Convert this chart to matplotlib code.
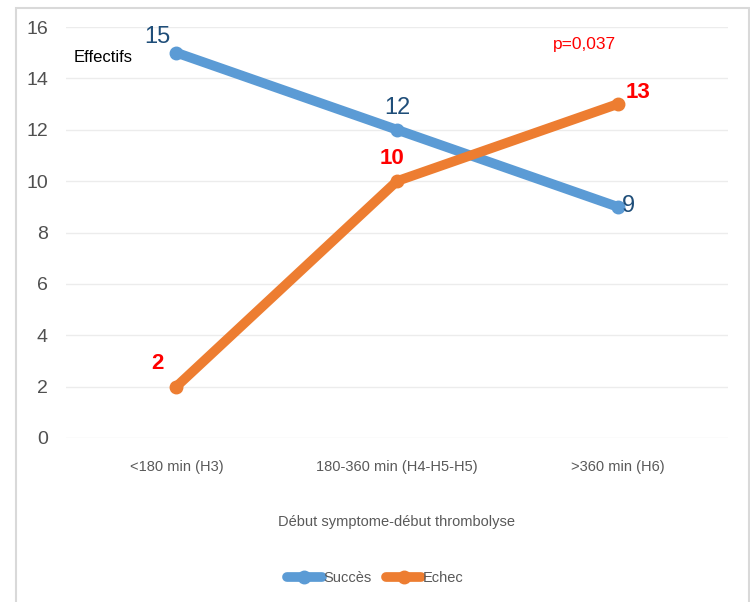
import matplotlib
matplotlib.use("Agg")
import matplotlib.pyplot as plt
from matplotlib.patches import Rectangle

categories = ["<180 min (H3)", "180-360 min (H4-H5-H5)", ">360 min (H6)"]
succes = [15, 12, 9]
echec = [2, 10, 13]
yticks = [0, 2, 4, 6, 8, 10, 12, 14, 16]

plt.rcParams['font.family'] = ['Liberation Sans', 'DejaVu Sans']

fig = plt.figure(figsize=(7.5, 6.02), dpi=100)
fig.patches.append(Rectangle((16/750, -0.1), (749-16)/750, 1.1 - 8/602, transform=fig.transFigure,
                             fill=False, edgecolor='#d9d9d9', linewidth=1.5))
ax = fig.add_axes([66/750, 1-438/602, (728-66)/750, (438-27)/602])

x = list(range(len(categories)))
blue = '#5B9BD5'
orange = '#ED7D31'
ax.plot(x, succes, color=blue, lw=7, marker='o', ms=9, solid_capstyle='round', label='Succès', zorder=3)
ax.plot(x, echec, color=orange, lw=7, marker='o', ms=9, solid_capstyle='round', label='Echec', zorder=3)

ax.set_xlim(-0.5, 2.5)
ax.set_ylim(0, 16)
ax.set_yticks(yticks)
ax.set_xticks(x)
ax.set_xticklabels(categories, fontsize=10.5, color='#595959')
ax.tick_params(axis='y', labelsize=14, colors='#505050', length=0, pad=13)
ax.tick_params(axis='x', length=0, pad=16)
ax.grid(axis='y', color='#ececec', lw=1)
ax.set_axisbelow(True)
for s in ax.spines.values():
    s.set_visible(False)

navy = '#1F4E79'
red = '#FF0000'
offs_s = [(-14, 11.5), (0, 16), (8, 0.5)]
offs_e = [(-13.7, 16.5), (-3.6, 16), (14.4, 8.6)]
for i, v in enumerate(succes):
    ax.annotate(str(v), (x[i], v), xytext=offs_s[i], textcoords='offset points',
                ha='center', va='center', fontsize=17, color=navy)
for i, v in enumerate(echec):
    ax.annotate(str(v), (x[i], v), xytext=offs_e[i], textcoords='offset points',
                ha='center', va='center', fontsize=16, color=red, fontweight='bold')

fig.text(584/750, 1-45/602, "p=0,037", color=red, fontsize=12.5, ha='center', va='center')
fig.text(103/750, 1-58/602, "Effectifs", color='black', fontsize=12, ha='center', va='center')
fig.text(397/750, 1-522/602, "Début symptome-début thrombolyse", color='#595959', fontsize=10.5,
         ha='center', va='center')

leg = fig.legend(loc='center', bbox_to_anchor=(375/750, 1-578/602), ncol=2, frameon=False,
                 fontsize=10.5, handlelength=2.4, columnspacing=1.0, handletextpad=0.1)
for t in leg.get_texts():
    t.set_color('#595959')

fig.savefig("out.png", dpi=100)
